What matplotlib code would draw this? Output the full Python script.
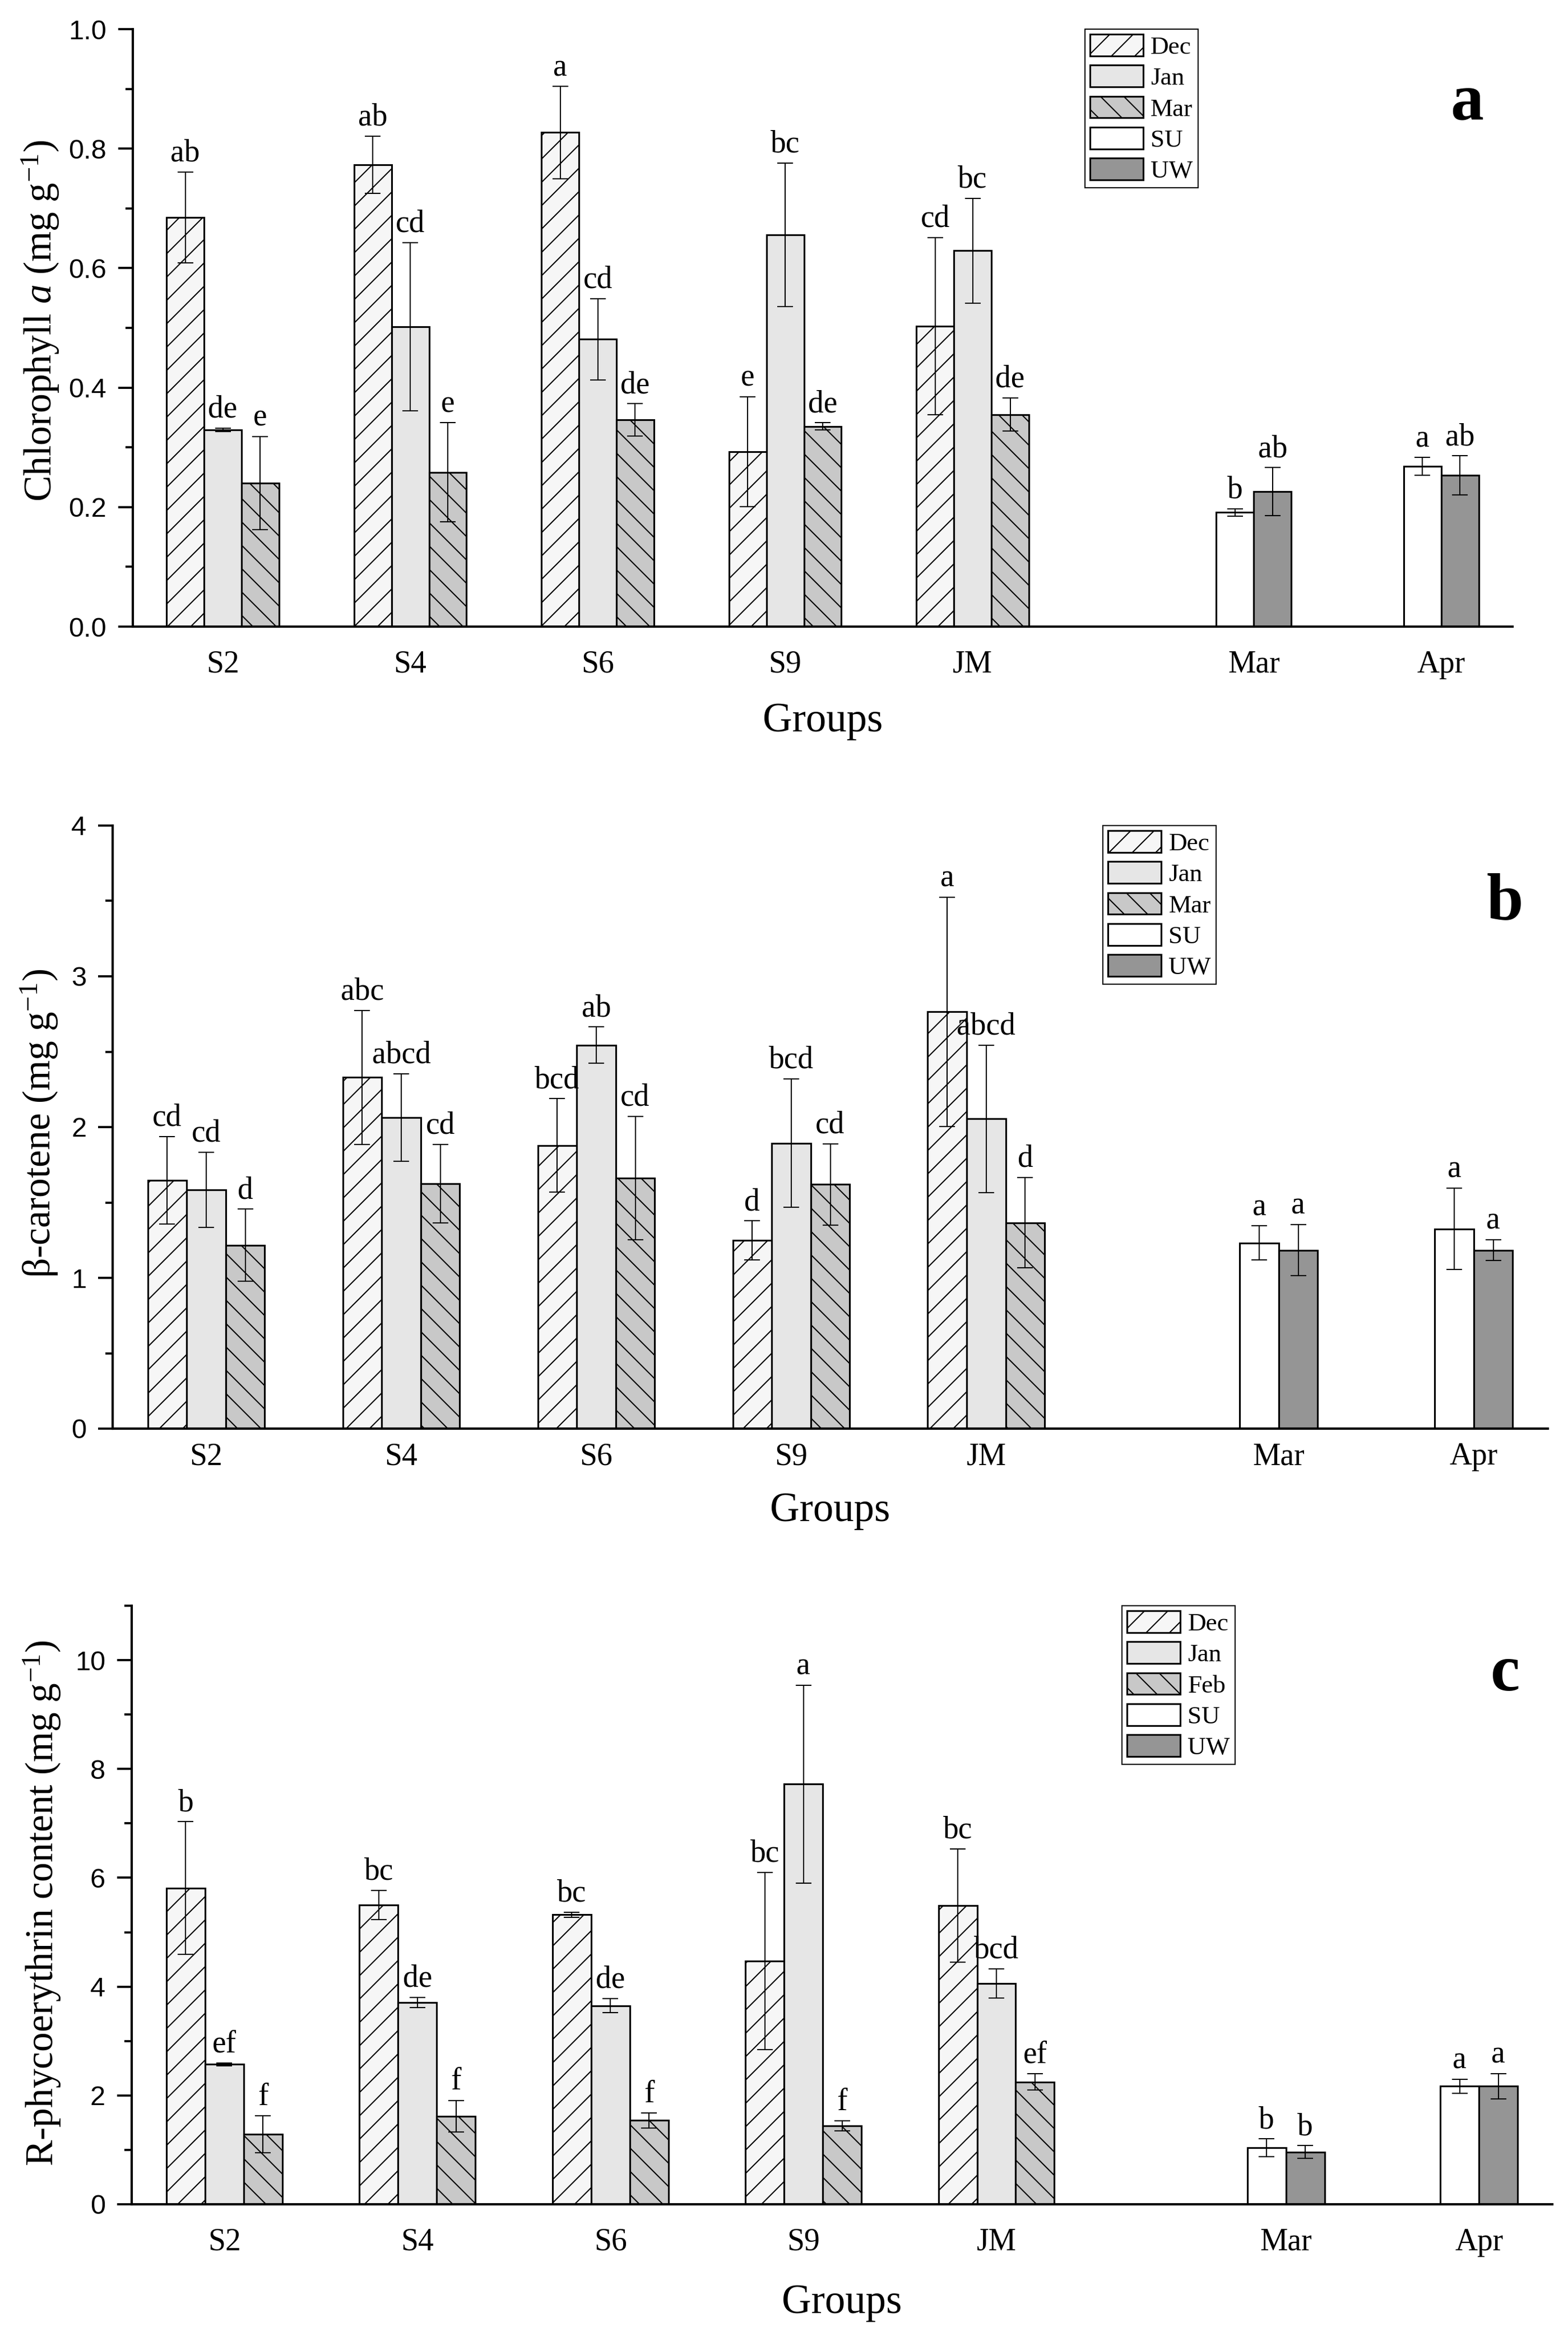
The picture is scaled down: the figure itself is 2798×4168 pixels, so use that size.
import numpy as np
import matplotlib
matplotlib.use("Agg")
import matplotlib.pyplot as plt
from matplotlib.ticker import MultipleLocator

plt.rcParams["font.family"] = ["Liberation Serif", "DejaVu Serif"]
plt.rcParams["mathtext.fontset"] = "custom"
plt.rcParams["mathtext.rm"] = "Liberation Serif"
plt.rcParams["mathtext.it"] = "Liberation Serif:italic"
plt.rcParams["hatch.linewidth"] = 0.6
plt.rcParams["hatch.color"] = "black"

sites = ["S2", "S4", "S6", "S9", "JM"]
seasons = ["Mar", "Apr"]
months_ab = ["Dec", "Jan", "Mar"]
months_c = ["Dec", "Jan", "Feb"]
treatments = ["SU", "UW"]

# chlorophyll a
chl_dec = [0.685, 0.773, 0.827, 0.293, 0.503]
chl_dec_sd = [0.076, 0.048, 0.077, 0.092, 0.148]
chl_dec_sig = ["ab", "ab", "a", "e", "cd"]
chl_jan = [0.329, 0.502, 0.481, 0.656, 0.629]
chl_jan_sd = [0.003, 0.141, 0.068, 0.120, 0.088]
chl_jan_sig = ["de", "cd", "cd", "bc", "bc"]
chl_mar = [0.240, 0.258, 0.346, 0.335, 0.355]
chl_mar_sd = [0.078, 0.083, 0.027, 0.006, 0.028]
chl_mar_sig = ["e", "e", "de", "de", "de"]
chl_su = [0.191, 0.268]
chl_su_sd = [0.006, 0.015]
chl_su_sig = ["b", "a"]
chl_uw = [0.226, 0.253]
chl_uw_sd = [0.040, 0.033]
chl_uw_sig = ["ab", "ab"]

# beta-carotene
car_dec = [1.648, 2.330, 1.878, 1.248, 2.765]
car_dec_sd = [0.29, 0.445, 0.31, 0.13, 0.76]
car_dec_sig = ["cd", "abc", "bcd", "d", "a"]
car_jan = [1.584, 2.064, 2.544, 1.894, 2.054]
car_jan_sd = [0.25, 0.29, 0.12, 0.426, 0.49]
car_jan_sig = ["cd", "abcd", "ab", "bcd", "abcd"]
car_mar = [1.216, 1.626, 1.661, 1.619, 1.366]
car_mar_sd = [0.24, 0.26, 0.41, 0.27, 0.30]
car_mar_sig = ["d", "cd", "cd", "cd", "d"]
car_su = [1.232, 1.325]
car_su_sd = [0.112, 0.27]
car_su_sig = ["a", "a"]
car_uw = [1.184, 1.184]
car_uw_sd = [0.17, 0.07]
car_uw_sig = ["a", "a"]

# R-phycoerythrin
pe_dec = [5.81, 5.50, 5.32, 4.47, 5.49]
pe_dec_sd = [1.22, 0.27, 0.05, 1.63, 1.04]
pe_dec_sig = ["b", "bc", "bc", "bc", "bc"]
pe_jan = [2.57, 3.71, 3.65, 7.72, 4.06]
pe_jan_sd = [0.03, 0.09, 0.13, 1.82, 0.27]
pe_jan_sig = ["ef", "de", "de", "a", "bcd"]
pe_feb = [1.29, 1.62, 1.54, 1.44, 2.25]
pe_feb_sd = [0.34, 0.29, 0.14, 0.09, 0.15]
pe_feb_sig = ["f", "f", "f", "f", "ef"]
pe_su = [1.04, 2.17]
pe_su_sd = [0.16, 0.13]
pe_su_sig = ["b", "a"]
pe_uw = [0.96, 2.17]
pe_uw_sd = [0.12, 0.23]
pe_uw_sig = ["b", "a"]

month_fill = ["#f6f6f6", "#e6e6e6", "#c8c8c8"]
month_hatch = ["//", "", "\\\\"]
treat_fill = ["white", "#959595"]

W, H, DPI = 2798, 4168, 250
fig = plt.figure(figsize=(W / DPI, H / DPI), dpi=DPI)


def add_letters(ax, xs, tops, letters):
    for x, t, s in zip(xs, tops, letters):
        ax.annotate(s, (x, t), xytext=(0, 5.5), textcoords="offset points",
                    ha="center", va="baseline", fontsize=16)


def draw_panel(rect, month_names, month_data, treat_data, ylabel, ymax, major,
               minor, tag, tag_pos, ylab_pos, xlab_y, leg_x, xpad):
    ax = fig.add_axes(rect)
    site_x = np.arange(len(sites))
    season_x = np.array([5.5, 6.5])
    width = 0.2
    err_kw = dict(ecolor="black", elinewidth=0.6, capsize=3.9, capthick=0.6)

    for i, (name, (vals, sd, sig)) in enumerate(zip(month_names, month_data)):
        xs = site_x + (i - 1) * width
        ax.bar(xs, vals, width, color=month_fill[i], hatch=month_hatch[i],
               edgecolor="black", linewidth=0.9, label=name, zorder=2)
        ax.errorbar(xs, vals, yerr=sd, fmt="none", zorder=3, **err_kw)
        add_letters(ax, xs, np.add(vals, sd), sig)

    for i, (name, (vals, sd, sig)) in enumerate(zip(treatments, treat_data)):
        xs = season_x + (i - 0.5) * width
        ax.bar(xs, vals, width, color=treat_fill[i], edgecolor="black",
               linewidth=0.9, label=name, zorder=2)
        ax.errorbar(xs, vals, yerr=sd, fmt="none", zorder=3, **err_kw)
        add_letters(ax, xs, np.add(vals, sd), sig)

    ax.set_xlim(-0.48, 6.88)
    ax.set_ylim(0, ymax)
    ax.set_xticks(list(site_x) + list(season_x))
    ax.set_xticklabels(sites + seasons)
    ax.yaxis.set_major_locator(MultipleLocator(major))
    ax.yaxis.set_minor_locator(MultipleLocator(minor))

    for side in ["top", "right"]:
        ax.spines[side].set_visible(False)
    for side in ["left", "bottom"]:
        ax.spines[side].set_linewidth(1.2)

    ax.tick_params(axis="y", which="major", length=7.5, width=1.1, pad=6,
                   labelsize=14, labelfontfamily="Liberation Sans")
    ax.tick_params(axis="y", which="minor", length=3.7, width=1.1)
    ax.tick_params(axis="x", length=0, labelsize=16, pad=xpad)

    ax.set_ylabel(ylabel, fontsize=20)
    ax.yaxis.set_label_coords(*ylab_pos)
    ax.yaxis.label.set_va("center")
    ax.set_xlabel("Groups", fontsize=21)
    ax.xaxis.set_label_coords(0.5, xlab_y)
    ax.xaxis.label.set_va("center")

    ax.text(tag_pos[0], tag_pos[1], tag, transform=ax.transAxes, fontsize=34,
            fontweight="bold", ha="center", va="center")

    leg = ax.legend(loc="upper left", bbox_to_anchor=(leg_x, 1.0), fontsize=13,
                    frameon=True, fancybox=False, edgecolor="black",
                    framealpha=1, handlelength=2.1, handleheight=0.95,
                    labelspacing=0.25, handletextpad=0.3, borderpad=0.2,
                    borderaxespad=0)
    leg.get_frame().set_linewidth(0.6)
    return ax


draw_panel([237 / W, 1 - 1118 / H, 2462 / W, 1066 / H], months_ab,
           [(chl_dec, chl_dec_sd, chl_dec_sig),
            (chl_jan, chl_jan_sd, chl_jan_sig),
            (chl_mar, chl_mar_sd, chl_mar_sig)],
           [(chl_su, chl_su_sd, chl_su_sig),
            (chl_uw, chl_uw_sd, chl_uw_sig)],
           r"Chlorophyll $\mathit{a}$ (mg g$^{-1}$)", 1.0, 0.2, 0.1,
           "a", (0.967, 0.875), (-0.067, 0.512), -0.159, 0.69, 12)

draw_panel([201 / W, 1 - 2549 / H, 2561 / W, 1076 / H], months_ab,
           [(car_dec, car_dec_sd, car_dec_sig),
            (car_jan, car_jan_sd, car_jan_sig),
            (car_mar, car_mar_sd, car_mar_sig)],
           [(car_su, car_su_sd, car_su_sig),
            (car_uw, car_uw_sd, car_uw_sig)],
           r"β-carotene (mg g$^{-1}$)", 4, 1, 0.5,
           "b", (0.970, 0.872), (-0.051, 0.506), -0.137, 0.69, 7)

draw_panel([235 / W, 1 - 3933 / H, 2535 / W, 1068 / H], months_c,
           [(pe_dec, pe_dec_sd, pe_dec_sig),
            (pe_jan, pe_jan_sd, pe_jan_sig),
            (pe_feb, pe_feb_sd, pe_feb_sig)],
           [(pe_su, pe_su_sd, pe_su_sig),
            (pe_uw, pe_uw_sd, pe_uw_sig)],
           r"R-phycoerythrin content (mg g$^{-1}$)", 11, 2, 1,
           "c", (0.967, 0.885), (-0.063, 0.503), -0.165, 0.697, 12)

fig.savefig("out.png", dpi=DPI)
plt.close(fig)
